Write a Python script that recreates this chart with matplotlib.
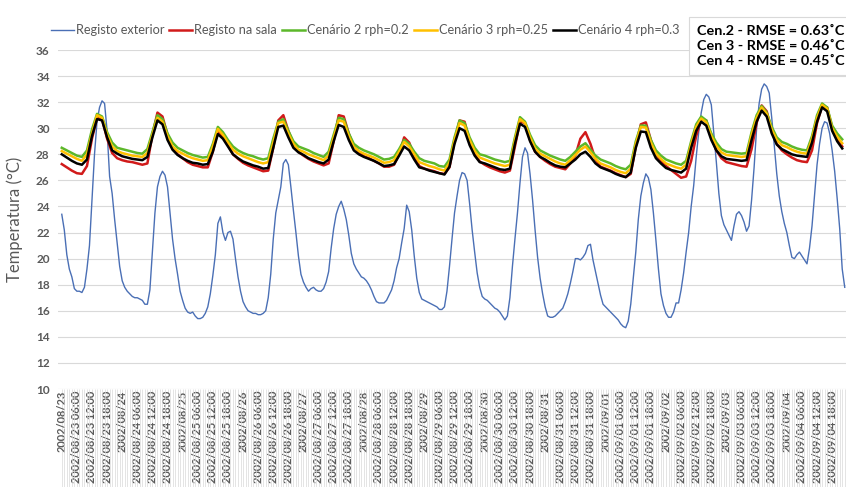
import matplotlib
matplotlib.use("Agg")
import matplotlib.pyplot as plt
import numpy as np
import pandas as pd

plt.rcParams['font.family'] = ['Lato', 'DejaVu Sans']

# hourly time stamps, 2002/08/23 00:00 .. 2002/09/04 23:00
times = pd.date_range('2002-08-23 00:00', periods=312, freq='h')

# outdoor temperature, hourly (one row per day)
exterior = [
    23.4, 22.2, 20.3, 19.2, 18.6, 17.7, 17.5, 17.5, 17.4, 17.8, 19.2, 21.0, 24.5, 28.0, 30.5, 31.6, 32.1, 31.9, 29.8, 26.3, 25.0, 23.0, 21.2, 19.4,
    18.3, 17.8, 17.5, 17.3, 17.1, 17.0, 17.0, 16.9, 16.8, 16.5, 16.5, 17.6, 20.5, 23.5, 25.5, 26.3, 26.7, 26.4, 25.5, 23.5, 21.5, 20.0, 18.8, 17.5,
    16.8, 16.2, 15.9, 15.8, 15.9, 15.6, 15.4, 15.4, 15.5, 15.8, 16.3, 17.3, 18.7, 20.3, 22.7, 23.2, 22.0, 21.4, 22.0, 22.1, 21.5, 20.0, 18.6, 17.5,
    16.7, 16.3, 16.0, 15.9, 15.8, 15.8, 15.7, 15.7, 15.8, 16.0, 17.0, 18.8, 21.5, 23.5, 24.5, 25.5, 27.3, 27.6, 27.2, 25.5, 23.7, 22.0, 20.2, 18.8,
    18.2, 17.8, 17.5, 17.7, 17.8, 17.6, 17.5, 17.5, 17.7, 18.2, 19.0, 20.8, 22.3, 23.4, 24.0, 24.4, 23.8, 23.0, 21.8, 20.4, 19.6, 19.2, 18.9, 18.6,
    18.5, 18.3, 18.0, 17.6, 17.1, 16.7, 16.6, 16.6, 16.6, 16.8, 17.2, 17.6, 18.3, 19.3, 20.0, 21.2, 22.3, 24.1, 23.6, 22.2, 20.2, 18.5, 17.4, 16.9,
    16.8, 16.7, 16.6, 16.5, 16.4, 16.3, 16.1, 16.1, 16.3, 17.5, 19.4, 21.5, 23.5, 24.8, 26.0, 26.6, 26.5, 26.0, 24.2, 22.2, 20.5, 18.9, 17.8, 17.1,
    16.9, 16.8, 16.6, 16.4, 16.2, 16.1, 15.9, 15.6, 15.3, 15.6, 17.0, 19.4, 21.5, 23.5, 25.8, 27.8, 28.5, 28.1, 26.5, 24.5, 22.2, 20.1, 18.5, 17.3,
    16.3, 15.6, 15.5, 15.5, 15.6, 15.8, 16.0, 16.2, 16.7, 17.3, 18.1, 19.0, 20.0, 20.0, 19.9, 20.1, 20.4, 21.0, 21.1, 19.9, 19.0, 18.1, 17.2, 16.5,
    16.3, 16.1, 15.9, 15.7, 15.5, 15.3, 15.0, 14.8, 14.7, 15.2, 16.5, 18.5, 20.5, 23.0, 24.8, 25.8, 26.5, 26.2, 25.3, 23.5, 21.4, 19.2, 17.3, 16.4,
    15.8, 15.5, 15.5, 15.9, 16.6, 16.6, 17.6, 18.9, 20.5, 22.0, 24.0, 25.6, 27.8, 29.7, 31.2, 32.2, 32.6, 32.4, 31.8, 29.6, 27.4, 25.0, 23.3, 22.6,
    22.2, 21.8, 21.4, 22.5, 23.4, 23.6, 23.3, 22.8, 22.1, 22.5, 24.5, 27.0, 30.0, 31.9, 33.0, 33.4, 33.2, 32.7, 30.8, 28.7, 26.5, 24.8, 23.6, 22.7,
    22.0, 21.0, 20.1, 20.0, 20.3, 20.5, 20.2, 19.9, 19.6, 20.8, 22.5, 24.8, 27.2, 28.8, 30.0, 30.5, 30.4, 29.6, 28.3, 26.7, 24.6, 22.3, 19.2, 17.8,
]

# indoor series, every 2 hours (one row per day)
sala = [
    27.25, 27.0, 26.75, 26.55, 26.5, 27.1, 29.2, 30.8, 30.7, 29.2, 28.1, 27.7,
    27.55, 27.45, 27.4, 27.3, 27.2, 27.3, 29.5, 31.2, 30.9, 29.5, 28.5, 28.0,
    27.7, 27.4, 27.2, 27.1, 27.0, 27.0, 28.2, 29.8, 29.4, 28.7, 28.0, 27.65,
    27.35, 27.15, 27.0, 26.85, 26.7, 26.75, 28.5, 30.6, 31.0, 29.8, 28.8, 28.2,
    27.9, 27.65, 27.45, 27.3, 27.15, 27.3, 29.0, 31.0, 30.9, 29.6, 28.6, 28.2,
    27.85, 27.7, 27.5, 27.3, 27.05, 27.05, 27.2, 28.0, 29.3, 28.9, 27.9, 27.1,
    26.9, 26.8, 26.7, 26.55, 26.5, 27.0, 29.0, 30.6, 30.5, 29.0, 28.0, 27.45,
    27.2, 27.0, 26.85, 26.7, 26.6, 26.75, 28.6, 30.5, 30.4, 29.1, 28.2, 27.8,
    27.5, 27.25, 27.05, 26.95, 26.85, 27.3, 27.9, 29.2, 29.7, 28.8, 27.6, 27.05,
    26.9, 26.75, 26.55, 26.4, 26.25, 26.5, 28.6, 30.3, 30.45, 29.1, 28.0, 27.5,
    27.1, 26.8, 26.5, 26.2, 26.3, 27.5, 29.4, 30.7, 30.6, 29.3, 28.3, 27.7,
    27.4, 27.3, 27.2, 27.1, 27.05, 28.4, 30.4, 31.75, 31.3, 29.8, 28.8, 28.3,
    28.0, 27.75, 27.55, 27.45, 27.4, 28.3, 30.4, 31.7, 31.6, 30.0, 29.2, 28.6,
]
cen2 = [
    28.5, 28.3, 28.1, 27.9, 27.8, 28.3, 29.9, 31.1, 30.9, 29.7, 28.9, 28.5,
    28.4, 28.3, 28.2, 28.1, 28.05, 28.4, 29.7, 31.0, 30.7, 29.6, 28.9, 28.5,
    28.3, 28.1, 27.95, 27.85, 27.75, 27.8, 28.8, 30.1, 29.7, 29.1, 28.6, 28.3,
    28.1, 27.95, 27.85, 27.7, 27.6, 27.7, 29.2, 30.5, 30.7, 29.8, 29.0, 28.6,
    28.45, 28.3, 28.1, 27.95, 27.8, 28.2, 29.5, 30.8, 30.7, 29.6, 28.8, 28.5,
    28.3, 28.15, 28.0, 27.8, 27.6, 27.65, 27.8, 28.4, 29.1, 28.8, 28.2, 27.7,
    27.5, 27.4, 27.3, 27.1, 27.05, 27.6, 29.3, 30.6, 30.4, 29.3, 28.5, 28.0,
    27.9, 27.75, 27.6, 27.5, 27.4, 27.5, 29.3, 30.85, 30.5, 29.5, 28.7, 28.3,
    28.1, 27.9, 27.75, 27.6, 27.5, 27.8, 28.2, 28.6, 28.85, 28.35, 27.9, 27.6,
    27.45, 27.3, 27.1, 26.95, 26.85, 27.2, 29.0, 30.2, 30.2, 29.1, 28.3, 27.9,
    27.6, 27.45, 27.3, 27.2, 27.5, 29.0, 30.3, 30.9, 30.6, 29.6, 28.9, 28.4,
    28.2, 28.15, 28.1, 28.05, 28.1, 29.7, 31.0, 31.7, 31.2, 30.1, 29.3, 28.95,
    28.8, 28.6, 28.45, 28.35, 28.3, 29.4, 31.0, 31.9, 31.6, 30.2, 29.6, 29.15,
]
cen3 = [
    28.25, 28.05, 27.85, 27.65, 27.5, 28.0, 29.6, 31.0, 30.8, 29.5, 28.6, 28.25,
    28.1, 28.0, 27.9, 27.85, 27.8, 28.1, 29.5, 30.8, 30.5, 29.4, 28.6, 28.25,
    28.05, 27.85, 27.7, 27.6, 27.5, 27.55, 28.6, 29.95, 29.5, 28.9, 28.35, 28.05,
    27.85, 27.7, 27.55, 27.4, 27.3, 27.4, 28.9, 30.4, 30.5, 29.6, 28.8, 28.35,
    28.2, 28.0, 27.85, 27.7, 27.55, 27.9, 29.3, 30.6, 30.5, 29.4, 28.55, 28.25,
    28.05, 27.9, 27.75, 27.55, 27.35, 27.4, 27.55, 28.2, 28.95, 28.6, 28.0, 27.4,
    27.25, 27.1, 27.0, 26.85, 26.75, 27.35, 29.1, 30.4, 30.2, 29.1, 28.25, 27.75,
    27.6, 27.45, 27.3, 27.2, 27.1, 27.2, 29.1, 30.7, 30.4, 29.3, 28.45, 28.05,
    27.85, 27.65, 27.45, 27.3, 27.2, 27.55, 27.95, 28.35, 28.6, 28.15, 27.65, 27.3,
    27.15, 27.0, 26.8, 26.65, 26.55, 26.9, 28.8, 30.1, 30.05, 28.9, 28.05, 27.65,
    27.3, 27.15, 27.0, 26.9, 27.2, 28.8, 30.1, 30.75, 30.45, 29.4, 28.65, 28.15,
    27.95, 27.9, 27.85, 27.8, 27.85, 29.5, 30.8, 31.6, 31.1, 29.9, 29.1, 28.7,
    28.55, 28.35, 28.2, 28.1, 28.05, 29.2, 30.8, 31.8, 31.5, 30.0, 29.35, 28.85,
]
cen4 = [
    28.0, 27.75, 27.5, 27.3, 27.2, 27.6, 29.4, 30.7, 30.6, 29.3, 28.3, 28.05,
    27.85, 27.75, 27.65, 27.6, 27.55, 27.8, 29.3, 30.6, 30.3, 29.1, 28.35, 27.95,
    27.7, 27.5, 27.35, 27.3, 27.2, 27.25, 28.2, 29.55, 29.2, 28.6, 28.0, 27.7,
    27.45, 27.3, 27.15, 27.05, 26.9, 26.95, 28.5, 30.1, 30.2, 29.3, 28.5, 28.15,
    27.95, 27.7, 27.55, 27.4, 27.3, 27.6, 29.0, 30.25, 30.1, 29.1, 28.3, 28.0,
    27.8, 27.65, 27.5, 27.3, 27.1, 27.15, 27.25, 27.9, 28.6, 28.3, 27.6, 27.0,
    26.9, 26.75, 26.65, 26.55, 26.45, 27.05, 28.8, 30.0, 29.8, 28.7, 27.9, 27.4,
    27.3, 27.15, 27.0, 26.85, 26.8, 26.9, 28.8, 30.35, 30.1, 29.0, 28.2, 27.8,
    27.6, 27.35, 27.15, 27.05, 27.0, 27.3, 27.6, 28.0, 28.2, 27.8, 27.3, 27.0,
    26.85, 26.7, 26.5, 26.35, 26.25, 26.6, 28.5, 29.75, 29.7, 28.5, 27.7, 27.3,
    26.95, 26.8, 26.7, 26.6, 26.9, 28.5, 29.8, 30.5, 30.2, 29.1, 28.3, 27.85,
    27.65, 27.6, 27.55, 27.5, 27.55, 29.1, 30.5, 31.35, 30.9, 29.6, 28.75, 28.4,
    28.2, 28.0, 27.9, 27.85, 27.8, 28.9, 30.5, 31.6, 31.3, 29.8, 29.0, 28.45,
]

rmse_lines = ['Cen.2 - RMSE = 0.63\u02daC', 'Cen 3 - RMSE = 0.46\u02daC', 'Cen 4 - RMSE = 0.45\u02daC']

hours = np.arange(len(exterior))
hours2 = hours[::2]

# tick labels every 6 h, date only at midnight
tick_pos = hours[::6]
tick_labels = [t.strftime('%Y/%m/%d') if t.hour == 0 else t.strftime('%Y/%m/%d %H:%M')
               for t in times[::6]]

grey = '#595959'
fig = plt.figure(figsize=(8.46, 4.87), dpi=100)
ax = fig.add_axes([58 / 846, 1 - 389 / 487, 788 / 846, 339 / 487])

ax.plot(hours, exterior, color='#4a6fb5', lw=1.0, label='Registo exterior')
ax.plot(hours2, sala, color='#d11a1a', lw=1.8, label='Registo na sala')
ax.plot(hours2, cen2, color='#5cb82a', lw=1.8, label='Cenário 2 rph=0.2')
ax.plot(hours2, cen3, color='#ffc000', lw=1.8, label='Cenário 3 rph=0.25')
ax.plot(hours2, cen4, color='#000000', lw=1.8, label='Cenário 4 rph=0.3')

ax.set_xlim(-1.5, 311.5)
ax.set_ylim(10, 36)
ax.set_yticks(np.arange(10, 37, 2))
ax.grid(axis='y', color='#d9d9d9', lw=0.8)
ax.set_axisbelow(True)
for s in ax.spines.values():
    s.set_visible(False)

ax.set_xticks(tick_pos)
ax.set_xticklabels(tick_labels, rotation=90, fontsize=7.9, fontweight='bold', color=grey)
ax.set_xticks(hours, minor=True)
ax.tick_params(axis='x', which='both', direction='out', length=72, width=0.5,
               color='#d9d9d9', pad=-71)
ax.tick_params(axis='y', length=0, pad=6, labelsize=8.5, labelcolor=grey)
for lab in ax.get_yticklabels():
    lab.set_fontweight('bold')

ax.set_ylabel('Temperatura (°C)', fontsize=12, color=grey, labelpad=9)

fig.legend(loc='center', bbox_to_anchor=(365 / 846, 1 - 30 / 487), ncol=5, frameon=False,
           fontsize=9.2, handlelength=1.8, handletextpad=0.15, columnspacing=0.4,
           labelcolor=grey)

fig.text(697 / 846, 1 - 46 / 487, '\n'.join(rmse_lines), fontsize=10.4, fontweight='bold',
         va='center', ha='left', linespacing=1.3,
         bbox=dict(boxstyle='square,pad=0.55', fc='white', ec='#d9d9d9', lw=0.8))

fig.savefig('out.png', dpi=100)
